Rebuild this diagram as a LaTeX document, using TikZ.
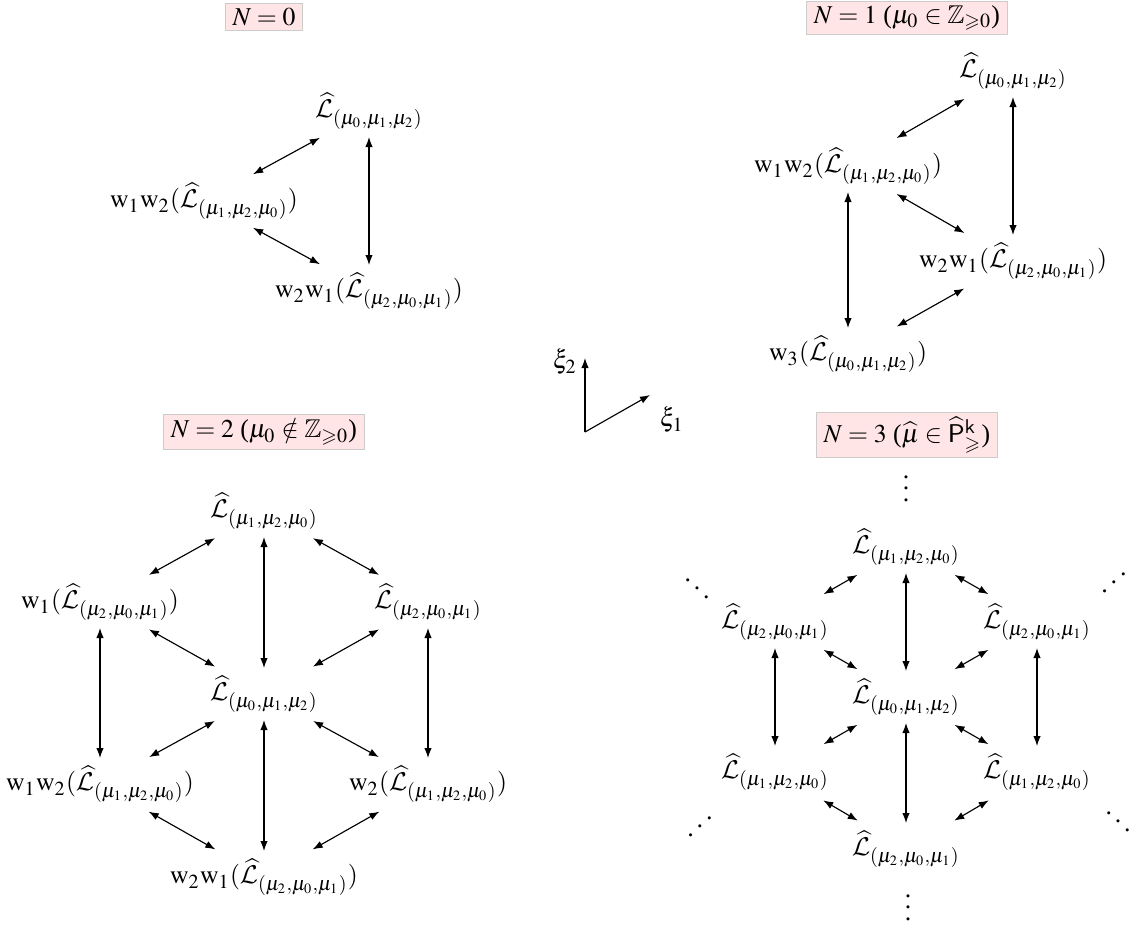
\documentclass[tikz,border=0pt]{standalone}
\usepackage{amsmath,amssymb}
\usepackage{mathptmx}
\DeclareMathAlphabet{\mathcal}{OMS}{cmsy}{m}{n}
\usepackage{fontspec}
\setmainfont{Liberation Serif}
\usepackage{graphicx}
\usetikzlibrary{arrows.meta}
\tikzset{every node/.style={font=\fontsize{9}{11}\selectfont},
  tag/.style={fill=red!10, draw=black!20, inner xsep=2.5pt, inner ysep=1.5pt},
  dia/.style={<->, shorten <=19.6pt, shorten >=19.6pt},
  ver/.style={<->, shorten <=9.1pt, shorten >=9.1pt}}
\newcommand{\Lh}[1]{\widehat{\mathcal{L}}_{(#1)}}
\newcommand{\udots}{\reflectbox{$\ddots$}}

\begin{document}
\begin{tikzpicture}[x=0.35pt,y=-0.35pt,>={Latex[length=3.5pt,width=2.6pt]}]
   \useasboundingbox (0,0) rectangle (1130,924);
   \begin{scope}[shift={(264,17)}]
    \node[tag] (t0) at (0,0) {$N=0$};
    \node (p0t) at (105,94)  {$\Lh{\mu_0,\mu_1,\mu_2}$};
    \node (p0l) at (-60,184) {$\mathrm{w}_1\mathrm{w}_2(\Lh{\mu_1,\mu_2,\mu_0})$};
    \node (p0b) at (105,274) {$\mathrm{w}_2\mathrm{w}_1(\Lh{\mu_2,\mu_0,\mu_1})$};
    \draw[dia] (p0l.center) -- (p0t.center);
    \draw[dia] (p0l.center) -- (p0b.center);
    \draw[ver] (p0t.center) -- (p0b.center);
   \end{scope}
   \begin{scope}[shift={(907,18)}]
    \node[tag] (t1) at (0,0) {$N=1$ ($\mu_0\in\mathbb{Z}_{\geqslant0}$)};
    \node (p1a) at (106,53)   {$\Lh{\mu_0,\mu_1,\mu_2}$};
    \node (p1b) at (-59,148)  {$\mathrm{w}_1\mathrm{w}_2(\Lh{\mu_1,\mu_2,\mu_0})$};
    \node (p1c) at (106,243)  {$\mathrm{w}_2\mathrm{w}_1(\Lh{\mu_2,\mu_0,\mu_1})$};
    \node (p1d) at (-59,336)  {$\mathrm{w}_3(\Lh{\mu_0,\mu_1,\mu_2})$};
    \draw[dia] (p1b.center) -- (p1a.center);
    \draw[dia] (p1b.center) -- (p1c.center);
    \draw[dia] (p1d.center) -- (p1c.center);
    \draw[ver] (p1a.center) -- (p1c.center);
    \draw[ver] (p1b.center) -- (p1d.center);
   \end{scope}
   \begin{scope}[shift={(264,432)}]
    \node[tag] (t2) at (0,0) {$N=2$ ($\mu_0\notin\mathbb{Z}_{\geqslant0}$)};
    \node (p2t)  at (0,79)     {$\Lh{\mu_1,\mu_2,\mu_0}$};
    \node (p2ul) at (-164,170) {$\mathrm{w}_1(\Lh{\mu_2,\mu_0,\mu_1})$};
    \node (p2ur) at (164,170)  {$\Lh{\mu_2,\mu_0,\mu_1}$};
    \node (p2c)  at (0,262)    {$\Lh{\mu_0,\mu_1,\mu_2}$};
    \node (p2ll) at (-164,352) {$\mathrm{w}_1\mathrm{w}_2(\Lh{\mu_1,\mu_2,\mu_0})$};
    \node (p2lr) at (164,352)  {$\mathrm{w}_2(\Lh{\mu_1,\mu_2,\mu_0})$};
    \node (p2b)  at (0,445)    {$\mathrm{w}_2\mathrm{w}_1(\Lh{\mu_2,\mu_0,\mu_1})$};
    \draw[dia] (p2ul.center) -- (p2t.center);
    \draw[dia] (p2t.center) -- (p2ur.center);
    \draw[dia] (p2ul.center) -- (p2c.center);
    \draw[dia] (p2ur.center) -- (p2c.center);
    \draw[dia] (p2ll.center) -- (p2c.center);
    \draw[dia] (p2c.center) -- (p2lr.center);
    \draw[dia] (p2ll.center) -- (p2b.center);
    \draw[dia] (p2lr.center) -- (p2b.center);
    \draw[ver] (p2t.center) -- (p2c.center);
    \draw[ver] (p2c.center) -- (p2b.center);
    \draw[ver] (p2ul.center) -- (p2ll.center);
    \draw[ver] (p2ur.center) -- (p2lr.center);
   \end{scope}
   \begin{scope}[shift={(906,435)}]
    \node[tag] (t3) at (1,0) {$N=3$ ($\widehat{\mu}\in\widehat{\mathsf{P}}^{\mathsf{k}}_{\geqslant}$)};
    \node (p3t)  at (0,112)    {$\Lh{\mu_1,\mu_2,\mu_0}$};
    \node (p3ul) at (-131,187) {$\Lh{\mu_2,\mu_0,\mu_1}$};
    \node (p3ur) at (131,187)  {$\Lh{\mu_2,\mu_0,\mu_1}$};
    \node (p3c)  at (0,262)    {$\Lh{\mu_0,\mu_1,\mu_2}$};
    \node (p3ll) at (-131,337) {$\Lh{\mu_1,\mu_2,\mu_0}$};
    \node (p3lr) at (131,337)  {$\Lh{\mu_1,\mu_2,\mu_0}$};
    \node (p3b)  at (0,414)    {$\Lh{\mu_2,\mu_0,\mu_1}$};
    \node (p3n)  at (0,45)     {$\vdots$};
    \node (p3s)  at (2,464)    {$\vdots$};
    \node (p3nw) at (-209,145) {$\ddots$};
    \node (p3ne) at (208,139)  {\udots};
    \node (p3sw) at (-206,383) {\udots};
    \node (p3se) at (212,378)  {$\ddots$};
    \draw[dia] (p3ul.center) -- (p3t.center);
    \draw[dia] (p3t.center) -- (p3ur.center);
    \draw[dia] (p3ul.center) -- (p3c.center);
    \draw[dia] (p3ur.center) -- (p3c.center);
    \draw[dia] (p3ll.center) -- (p3c.center);
    \draw[dia] (p3c.center) -- (p3lr.center);
    \draw[dia] (p3ll.center) -- (p3b.center);
    \draw[dia] (p3lr.center) -- (p3b.center);
    \draw[ver] (p3t.center) -- (p3c.center);
    \draw[ver] (p3c.center) -- (p3b.center);
    \draw[ver] (p3ul.center) -- (p3ll.center);
    \draw[ver] (p3ur.center) -- (p3lr.center);
   \end{scope}
   \coordinate (o) at (585,432);
   \coordinate (e1) at (650,395);
   \coordinate (e2) at (585,358);
   \draw[->] (o) -- (e1);
   \draw[->] (o) -- (e2);
   \node (x1) at (672,420) {$\xi_1$};
   \node (x2) at (565,362) {$\xi_2$};
  \end{tikzpicture}
\end{document}
